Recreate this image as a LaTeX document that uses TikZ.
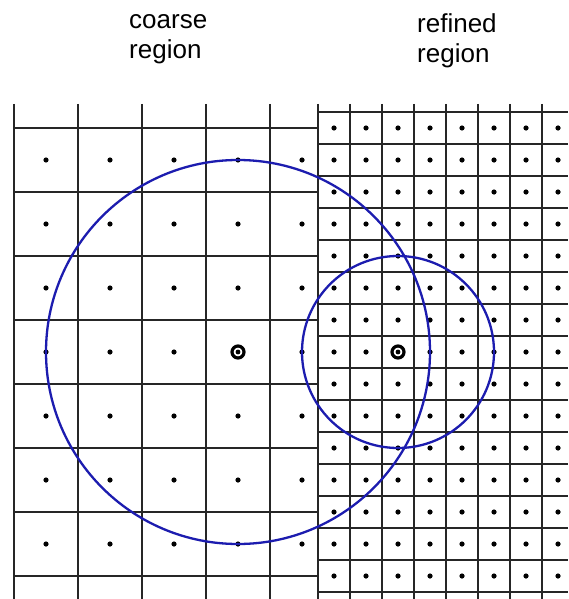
\documentclass[tikz,border=0pt]{standalone}
\usepackage{fontspec}
\setmainfont{Liberation Sans}
\definecolor{circblue}{RGB}{28,28,175}
\tikzset{
  gridline/.style={line width=1.4pt, draw=black!85},
  cdot/.style={fill=black},
  bigcirc/.style={line width=2.3pt, draw=circblue},
  label/.style={inner sep=0pt, anchor=base west, font=\fontsize{26}{30}\selectfont},
  marker/.style={line width=3.2pt, draw=black}
}
\begin{document}
\begin{tikzpicture}[x=1pt,y=-1pt]
\useasboundingbox (0,0) rectangle (568,599);
\fill[white] (0,0) rectangle (568,599);
\clip (0,0) rectangle (568,599);
% labels
\node[label] (c1) at (129,29) {coarse};
\node[label] (c2) at (129,59) {region};
\node[label] (r1) at (417,33) {refined};
\node[label] (r2) at (417,63) {region};
% coarse grid
\foreach \x in {14,78,142,206,270}
  \draw[gridline] (\x,104) -- (\x,599);
\foreach \y in {128,192,...,576}
  \draw[gridline] (13,\y) -- (318,\y);
\foreach \x in {46,110,...,302}
  \foreach \y in {160,224,...,544}
    \fill[cdot] (\x,\y) circle (2.6pt);
% refined grid
\foreach \x in {318,350,...,574}
  \draw[gridline] (\x,104) -- (\x,599);
\foreach \y in {112,144,...,592}
  \draw[gridline] (318,\y) -- (568,\y);
\foreach \x in {334,366,...,558}
  \foreach \y in {128,160,...,576}
    \fill[cdot] (\x,\y) circle (2.6pt);
% circles
\coordinate (cc) at (238,352);
\coordinate (rc) at (398,352);
\draw[bigcirc] (cc) circle (192pt);
\draw[bigcirc] (rc) circle (96pt);
% markers
\draw[marker, fill=white] (cc) circle (6pt);
\fill (cc) circle (2.4pt);
\draw[marker, fill=white] (rc) circle (6pt);
\fill (rc) circle (2.4pt);
\end{tikzpicture}
\end{document}
